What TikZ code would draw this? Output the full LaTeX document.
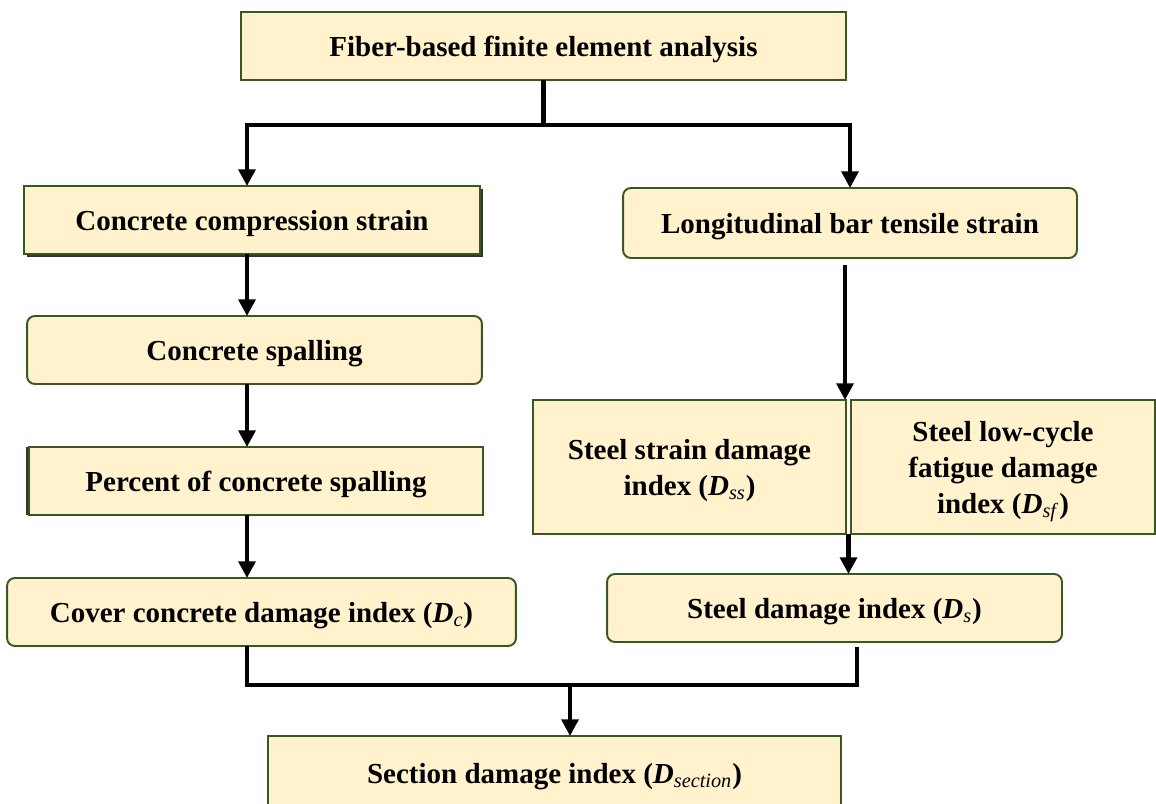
\documentclass[tikz,border=0pt]{standalone}
\usepackage{fontspec}
\setmainfont{Liberation Serif}
\usetikzlibrary{arrows.meta, calc, positioning, shadows}

\begin{document}
\begin{tikzpicture}[
  x=0.02cm, y=-0.02cm,
  % ---- styles ----
  box/.style 2 args={%
    draw=Cedge, fill=Cfill, line width=1.1pt, minimum width=#1, minimum height=#2,
    inner sep=2pt, font=\fontsize{16.5}{20.5}\selectfont\bfseries, align=center,
    text depth=0pt, outer sep=0pt,
  },
  rbox/.style 2 args={box={#1}{#2}, rounded corners=4.5pt},
  wire/.style={line width=2.5pt, line join=miter},
  link/.style={wire, -{Triangle[length=9.5pt, width=9.5pt]}},
]

% ---- colour palette ----
\definecolor{Cedge}{HTML}{385723}           % box border
\definecolor{Cfill}{HTML}{FFF2CC}           % box fill

\def\Dx#1{\textit{D}\textsubscript{\mdseries\textit{#1}}}   % damage index symbol

\useasboundingbox (0,0) rectangle (1156,804);
\clip (0,0) rectangle (1156,804);

% =========================================================
% top
% =========================================================
\node[box={12.1cm}{1.36cm}] (fea) at (543.5,46) {Fiber-based finite element analysis};

% =========================================================
% concrete branch (left)
% =========================================================
\node[box={9.12cm}{1.36cm},
      drop shadow={shadow xshift=1.8pt, shadow yshift=-1.5pt, fill=black!80, opacity=1}]
    (ccs) at (252,220) {Concrete compression strain};
\node[rbox={9.1cm}{1.36cm}]  (cs)    at (254.5,350) {Concrete spalling};
\node[box={9.08cm}{1.36cm},
      drop shadow={shadow xshift=-1.8pt, shadow yshift=0pt, fill=black!80, opacity=1}]
    (pcs) at (256,481) {Percent of concrete spalling};
\node[rbox={10.18cm}{1.36cm}] (cover) at (261.5,612) {Cover concrete damage index (\Dx{c})};

% =========================================================
% steel branch (right)
% =========================================================
\node[rbox={9.08cm}{1.4cm}]  (lbts)  at (850,223)   {Longitudinal bar tensile strain};
\node[box={6.26cm}{2.68cm}]  (ssd)   at (689.5,467) {Steel strain damage\\index (\Dx{ss})};
\node[box={6.08cm}{2.68cm}]  (slcf)  at (1003,467)  {Steel low-cycle\\fatigue damage\\index (\Dx{sf})};
\node[rbox={9.1cm}{1.36cm}]  (sdi)   at (834.5,608) {Steel damage index (\Dx{s})};

% =========================================================
% bottom
% =========================================================
\node[box={11.46cm}{1.48cm}] (sec) at (554.5,773) {Section damage index (\Dx{section})};

% =========================================================
% connectors
% =========================================================
\coordinate (lcol)   at (247,0);
\coordinate (rcol)   at (845,0);
\coordinate (sdrop)  at (857,0);
\coordinate (tsplit) at (543.5,125);
\coordinate (bjoin)  at (570,685);
\coordinate (rjoin)  at ($(ssd.south east)!0.5!(slcf.south west)$);

\draw[wire] (fea.south) -- (tsplit);
\draw[link] (tsplit) -| (ccs.north -| lcol);
\draw[link] (tsplit) -| (lbts.north);

\draw[link] (ccs.south -| lcol) -- (cs.north -| lcol);
\draw[link] (cs.south -| lcol)  -- (pcs.north -| lcol);
\draw[link] (pcs.south -| lcol) -- (cover.north -| lcol);

\draw[link, shorten <=4pt] (lbts.south -| rcol) -- (ssd.north -| rcol);
\draw[link] (rjoin) -- (rjoin |- sdi.north);

\draw[wire, shorten >=3pt] (cover.south -| lcol) |- (bjoin) -| (sdi.south -| sdrop);
\draw[link] (bjoin) -- (sec.north -| bjoin);

\end{tikzpicture}
\end{document}
